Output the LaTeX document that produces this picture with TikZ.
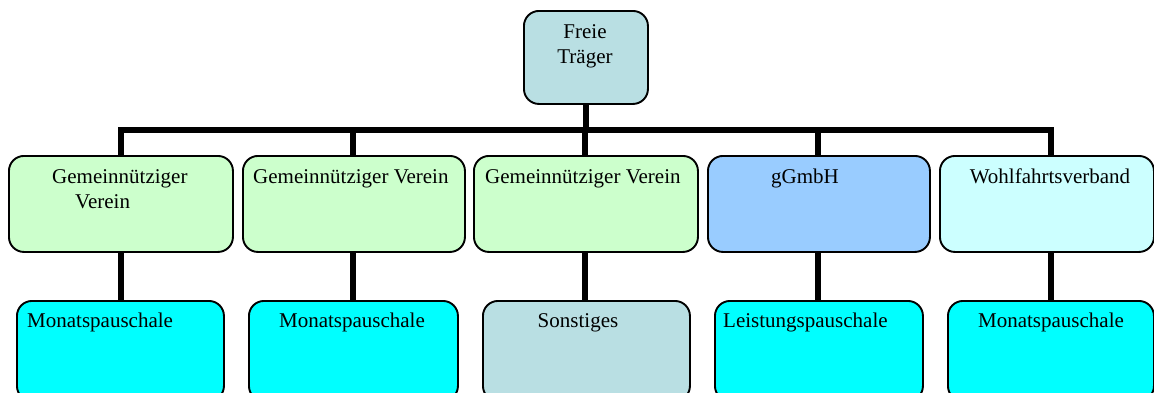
\documentclass[tikz,border=0pt]{standalone}
\usepackage{fontspec}
\setmainfont{Liberation Serif}
\usetikzlibrary{backgrounds}
\definecolor{topc}{RGB}{185,223,227}
\definecolor{greenc}{HTML}{CCFFCC}
\definecolor{bluec}{HTML}{99CCFF}
\definecolor{lcyan}{HTML}{CCFFFF}
\definecolor{cyanc}{HTML}{00FFFF}
\tikzset{
  box/.style={draw=black, line width=1.9pt, rounded corners=15pt, inner sep=0pt, anchor=north west},
  conn/.style={draw=black, line width=6pt},
  txt/.style={inner sep=0pt, anchor=base west, font=\fontsize{21}{25}\selectfont},
  ctxt/.style={inner sep=0pt, anchor=base, font=\fontsize{21}{25}\selectfont},
}
\begin{document}
\begin{tikzpicture}[x=1pt,y=-1pt]
\useasboundingbox (0,0) rectangle (1154,392);
% top
\node[box, fill=topc, minimum width=124pt, minimum height=93pt] (top) at (523,10) {};
\node[ctxt] (ttop1) at (585,38) {Freie};
\node[ctxt] (ttop2) at (585,63) {Träger};
% level 2
\node[box, fill=greenc, minimum width=224pt, minimum height=96pt] (b1) at (8,155) {};
\node[box, fill=greenc, minimum width=222pt, minimum height=96pt] (b2) at (242,155) {};
\node[box, fill=greenc, minimum width=224pt, minimum height=96pt] (b3) at (473,155) {};
\node[box, fill=bluec, minimum width=222pt, minimum height=96pt] (b4) at (707,155) {};
\node[box, fill=lcyan, minimum width=214pt, minimum height=96pt] (b5) at (939,155) {};
\node[txt] (t1a) at (52,183) {Gemeinnütziger};
\node[txt] (t1b) at (75,208) {Verein};
\node[txt] (t2) at (253,183) {Gemeinnütziger Verein};
\node[txt] (t3) at (485,183) {Gemeinnütziger Verein};
\node[txt] (t4) at (771,183) {gGmbH};
\node[ctxt] (t5) at (1050,183) {Wohlfahrtsverband};
% level 3
\node[box, fill=cyanc, minimum width=207pt, minimum height=100pt] (c1) at (16,300) {};
\node[box, fill=cyanc, minimum width=209pt, minimum height=100pt] (c2) at (248,300) {};
\node[box, fill=topc, minimum width=207pt, minimum height=100pt] (c3) at (482,300) {};
\node[box, fill=cyanc, minimum width=208pt, minimum height=100pt] (c4) at (714,300) {};
\node[box, fill=cyanc, minimum width=206pt, minimum height=100pt] (c5) at (947,300) {};
\node[txt] (u1) at (27,327) {Monatspauschale};
\node[ctxt] (u2) at (352,327) {Monatspauschale};
\node[ctxt] (u3) at (578,327) {Sonstiges};
\node[txt] (u4) at (723,327) {Leistungspauschale};
\node[ctxt] (u5) at (1051,327) {Monatspauschale};
% connectors
\coordinate (bar) at (0,130);
\coordinate (k1) at (121,0);
\coordinate (k2) at (353,0);
\coordinate (k3) at (585,0);
\coordinate (k4) at (818,0);
\coordinate (k5) at (1051,0);
\begin{pgfonlayer}{background}
\draw[conn] (top.south) -- (top.south |- bar);
\draw[conn] (k1 |- b1.north) -- (k1 |- bar) -- (k5 |- bar) -- (k5 |- b5.north);
\draw[conn] (k2 |- bar) -- (k2 |- b2.north);
\draw[conn] (k3 |- bar) -- (k3 |- b3.north);
\draw[conn] (k4 |- bar) -- (k4 |- b4.north);
\draw[conn] (k1 |- b1.south) -- (k1 |- c1.north);
\draw[conn] (k2 |- b2.south) -- (k2 |- c2.north);
\draw[conn] (k3 |- b3.south) -- (k3 |- c3.north);
\draw[conn] (k4 |- b4.south) -- (k4 |- c4.north);
\draw[conn] (k5 |- b5.south) -- (k5 |- c5.north);
\end{pgfonlayer}
\end{tikzpicture}
\end{document}
